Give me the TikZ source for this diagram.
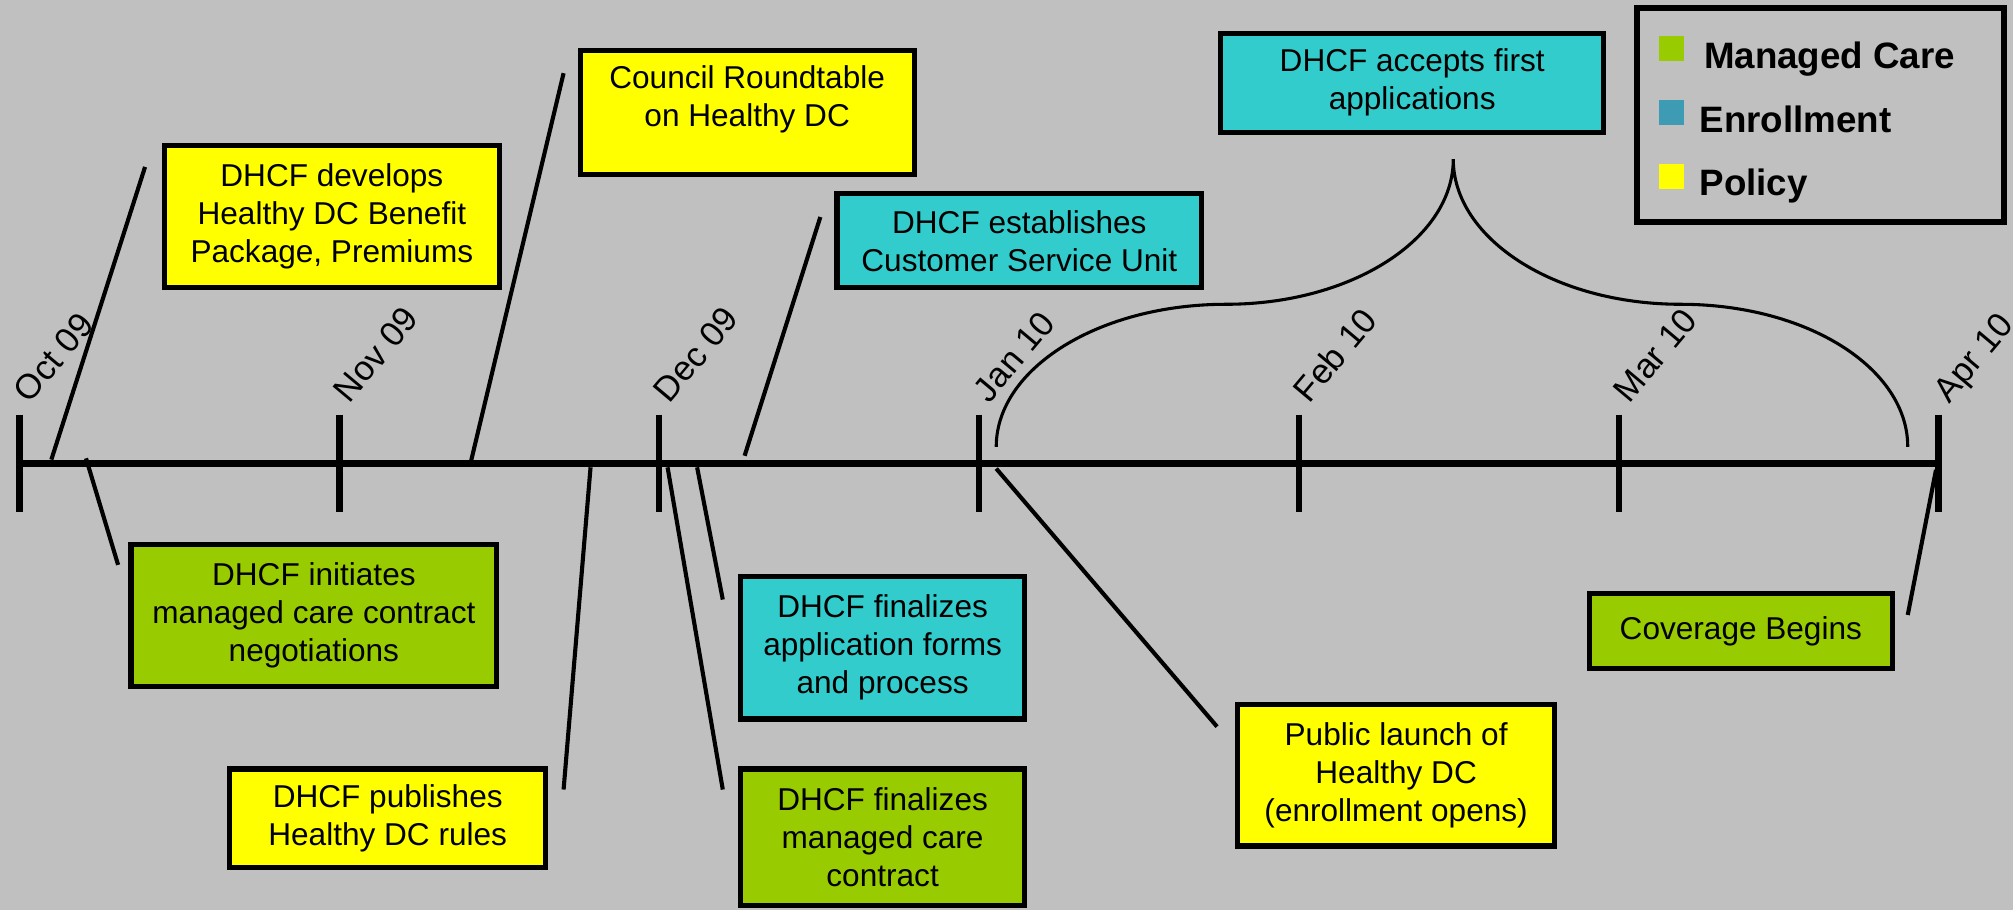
\documentclass[tikz,border=0pt]{standalone}
\usepackage{fontspec}
\setmainfont{Liberation Sans}
\usetikzlibrary{arrows}
\usetikzlibrary{calc}
\definecolor{mybg}{HTML}{C0C0C0}
\definecolor{mypolicy}{HTML}{FFFF00}
\definecolor{myenroll}{HTML}{33CCCC}
\definecolor{mycare}{HTML}{99CC00}
\definecolor{mykey}{HTML}{3D9BB3}

\begin{document}
\begin{tikzpicture}[x=0.5pt,y=-0.5pt,
  event node/.style={rectangle,draw,line width=2pt,align=center,inner sep=2pt,
    font=\fontsize{12.3}{14.8}\selectfont},
  month node/.style={rotate=50,anchor=base west,inner sep=0pt,
    font=\fontsize{13.5}{16}\selectfont},
  key node/.style={anchor=base west,inner sep=0pt,
    font=\fontsize{14.3}{17}\selectfont\bfseries},
  key box/.style={rectangle,minimum size=9.75pt,inner sep=0pt}]

\fill[mybg] (0,0) rectangle (1568,709);
\useasboundingbox (0,0) rectangle (1568,709);

% months
\foreach \m [count=\i from 0] in {Oct 09,Nov 09,Dec 09,Jan 10,Feb 10,Mar 10,Apr 10}{
  \coordinate (t\i) at (15+249.2*\i,361);
  \draw[line width=2.6pt] (15+249.2*\i,323) -- (15+249.2*\i,399);
  \node[month node] (m\i) at (23+249.2*\i,315) {\m};
}
\draw[line width=2.7pt] (t0) -- (t6);

% events
\node[event node,fill=mypolicy,minimum width=130.5pt,minimum height=55.5pt] (develop) at (258.5,168.5)
  {DHCF develops\\Healthy DC Benefit\\Package, Premiums};
\node[event node,fill=mypolicy,minimum width=130pt,minimum height=48.5pt] (council) at (582,87.5)
  {Council Roundtable\\on Healthy DC\\[-2pt]\mbox{}};
\node[event node,fill=myenroll,minimum width=142pt,minimum height=36.5pt] (service) at (794,187.5)
  {DHCF establishes\\Customer Service Unit};
\node[event node,fill=myenroll,minimum width=149pt,minimum height=38.5pt] (accepts) at (1100,64.5)
  {DHCF accepts first\\applications};
\node[event node,fill=mycare,minimum width=142.5pt,minimum height=55.5pt] (initiates) at (244.5,479.5)
  {DHCF initiates\\managed care contract\\negotiations};
\node[event node,fill=mypolicy,minimum width=123pt,minimum height=38.5pt] (rules) at (302,637.5)
  {DHCF publishes\\Healthy DC rules};
\node[event node,fill=myenroll,minimum width=110.5pt,minimum height=55.5pt] (forms) at (687.5,504.5)
  {DHCF finalizes\\application forms\\and process};
\node[event node,fill=mycare,minimum width=110.5pt,minimum height=53pt] (contract) at (687.5,652)
  {DHCF finalizes\\managed care\\contract};
\node[event node,fill=mypolicy,minimum width=123.5pt,minimum height=55pt] (launch) at (1087.5,604)
  {Public launch of\\Healthy DC\\(enrollment opens)};
\node[event node,fill=mycare,minimum width=118pt,minimum height=29.5pt] (coverage) at (1356,491.5)
  {Coverage Begins};

% legend
\node[draw,line width=2.2pt,minimum width=143pt,minimum height=83.5pt] (legend) at (1418,89.5) {};
\node[key box,fill=mycare] (k1) at (1302,37.4) {};
\node[key box,fill=mykey] (k2) at (1302,87.6) {};
\node[key box,fill=mypolicy] (k3) at (1302,137.5) {};
\node[key node] (l1) at (1327,53) {Managed Care};
\node[key node] (l2) at (1323.5,103) {Enrollment};
\node[key node] (l3) at (1323.5,152) {Policy};

% connector ends
\coordinate (dev1) at (40,358);   \coordinate (dev2) at (113,130);
\coordinate (ini1) at (67,357);   \coordinate (ini2) at (92,440);
\coordinate (cou1) at (366,363);  \coordinate (cou2) at (439,57);
\coordinate (pub1) at (460,364);  \coordinate (pub2) at (439,615);
\coordinate (mcc1) at (520,364);  \coordinate (mcc2) at (563,615);
\coordinate (app1) at (543,364);  \coordinate (app2) at (563,467);
\coordinate (csu1) at (580,355);  \coordinate (csu2) at (639,169);
\coordinate (pl1) at (776,365);   \coordinate (pl2) at (948,566);
\coordinate (cov1) at (1508,366); \coordinate (cov2) at (1486,479);

\path[every edge/.style={draw,line width=1.6pt}]
(dev1) edge (dev2)
(ini1) edge (ini2)
(cou1) edge (cou2)
(pub1) edge (pub2)
(mcc1) edge (mcc2)
(app1) edge (app2)
(csu1) edge (csu2)
(pl1)  edge (pl2)
(cov1) edge (cov2);

% brace over Jan--Apr
\coordinate (bl) at (776,348);
\coordinate (bt) at (1132,124);
\coordinate (br) at (1486,348);
\draw[line width=1.2pt] (bl) .. controls (776,287) and (856,237) .. (955,237)
  .. controls (1053,237) and (1132,186) .. (bt)
  .. controls (1132,186) and (1211,237) .. (1309,237)
  .. controls (1408,237) and (1486,287) .. (br);

\end{tikzpicture}
\end{document}
